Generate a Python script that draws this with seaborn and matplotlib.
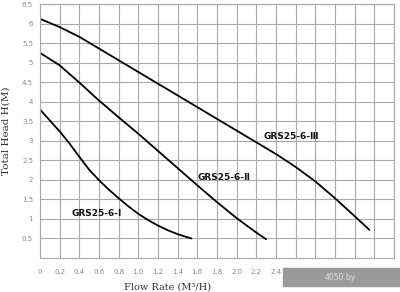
import matplotlib
matplotlib.use("Agg")
import matplotlib.pyplot as plt
import seaborn as sns
import pandas as pd

# Data
flow_I = [0.0, 0.1, 0.2, 0.3, 0.4, 0.5, 0.6, 0.7, 0.8, 0.9, 1.0, 1.1, 1.2, 1.3, 1.4, 1.5, 1.54]
head_I = [3.8, 3.52, 3.24, 2.93, 2.59, 2.26, 1.99, 1.75, 1.53, 1.32, 1.13, 0.97, 0.83, 0.71, 0.61, 0.53, 0.5]

flow_II = [0.0, 0.2, 0.4, 0.6, 0.8, 1.0, 1.2, 1.4, 1.6, 1.8, 2.0, 2.2, 2.3]
head_II = [5.25, 4.93, 4.49, 4.03, 3.6, 3.18, 2.74, 2.3, 1.86, 1.43, 1.02, 0.65, 0.48]

flow_III = [0.0, 0.2, 0.4, 0.6, 0.8, 1.0, 1.2, 1.4, 1.6, 1.8, 2.0, 2.2, 2.4, 2.6, 2.8, 3.0, 3.2, 3.35]
head_III = [6.12, 5.91, 5.66, 5.36, 5.06, 4.76, 4.46, 4.16, 3.86, 3.56, 3.26, 2.96, 2.66, 2.33, 1.96, 1.53, 1.07, 0.72]

models = ["GRS25-6-Ⅰ", "GRS25-6-Ⅱ", "GRS25-6-Ⅲ"]
label_pos = [(0.32, 1.13), (1.6, 2.05), (2.27, 3.1)]

x_ticks = [round(0.2 * i, 1) for i in range(0, 19)]
# labels beyond 2.4 are hidden under the watermark in the reference
x_ticklabels = ["0"] + [f"{v:.1f}" if v <= 2.4 else "" for v in x_ticks[1:]]
y_ticks = [0.5 * i for i in range(1, 14)]
y_ticklabels = [("%g" % v) for v in y_ticks]

df = pd.concat([
    pd.DataFrame({"flow": flow_I, "head": head_I, "model": models[0]}),
    pd.DataFrame({"flow": flow_II, "head": head_II, "model": models[1]}),
    pd.DataFrame({"flow": flow_III, "head": head_III, "model": models[2]}),
])

sns.set_style("white")
fig = plt.figure(figsize=(4.0, 2.92), dpi=100)
ax = fig.add_axes([0.1, 0.1164, 0.885, 0.8699])

sns.lineplot(data=df, x="flow", y="head", hue="model", palette=["black"] * 3,
             linewidth=1.3, legend=False, ax=ax, sort=False, estimator=None)

ax.set_xlim(0, 3.6)
ax.set_ylim(0, 6.5)
ax.set_xticks(x_ticks)
ax.set_xticklabels(x_ticklabels)
ax.set_yticks(y_ticks)
ax.set_yticklabels(y_ticklabels)
ax.tick_params(axis="both", length=0, labelsize=5, colors="#888888")
ax.tick_params(axis="x", pad=8)
ax.tick_params(axis="y", pad=5)
ax.grid(True, color="#a8a8a8", linewidth=0.8)
for s in ax.spines.values():
    s.set_color("#a8a8a8")
    s.set_linewidth(0.8)

ax.set_xlabel("Flow Rate (M³/H)", family="DejaVu Serif", fontsize=7, color="#333333")
ax.xaxis.set_label_coords(0.36, -0.095)
ax.set_ylabel("Total Head H(M)", family="DejaVu Serif", fontsize=7.5, color="#333333", labelpad=8)

for name, (lx, ly) in zip(models, label_pos):
    ax.text(lx, ly, name, fontsize=6.5, fontweight="bold", color="#111111",
            ha="left", va="center", family="DejaVu Sans")

# watermark box
fig.patches.append(plt.Rectangle((283 / 400, 1 - 286 / 292), 117 / 400, 18 / 292,
                                 transform=fig.transFigure, color="#9a9a9a", zorder=5))
fig.text(340 / 400, 1 - 277 / 292, "4050.by", fontsize=5.5, color="#dddddd",
         ha="center", va="center", zorder=6)

fig.savefig("out.png", dpi=100)
